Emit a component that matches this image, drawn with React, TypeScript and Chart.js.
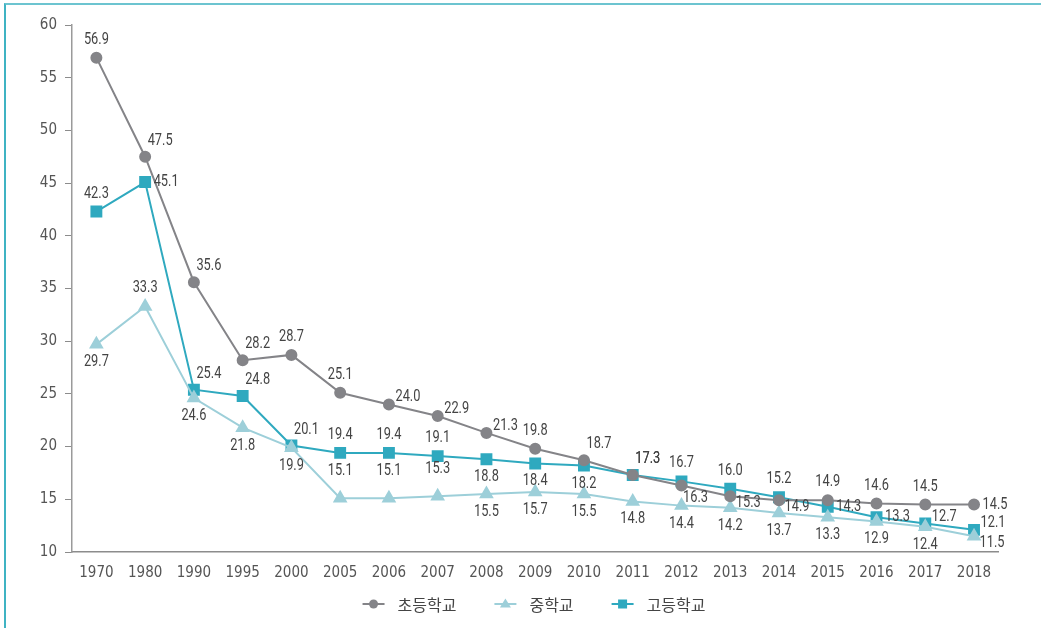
import React, { useEffect, useRef } from 'react';
import { Chart, registerables } from 'chart.js';

Chart.register(...registerables);

// ---- data ----
const years = ['1970', '1980', '1990', '1995', '2000', '2005', '2006', '2007', '2008', '2009', '2010', '2011', '2012', '2013', '2014', '2015', '2016', '2017', '2018'];
const seriesNames = ['초등학교', '중학교', '고등학교'];
const elementary = [56.9, 47.5, 35.6, 28.2, 28.7, 25.1, 24.0, 22.9, 21.3, 19.8, 18.7, 17.3, 16.3, 15.3, 14.9, 14.9, 14.6, 14.5, 14.5];
const middle = [29.7, 33.3, 24.6, 21.8, 19.9, 15.1, 15.1, 15.3, 15.5, 15.7, 15.5, 14.8, 14.4, 14.2, 13.7, 13.3, 12.9, 12.4, 11.5];
const high = [42.3, 45.1, 25.4, 24.8, 20.1, 19.4, 19.4, 19.1, 18.8, 18.4, 18.2, 17.3, 16.7, 16.0, 15.2, 14.3, 13.3, 12.7, 12.1];
const yMin = 10;
const yMax = 60;
const yStep = 5;

// label placement codes (styling, not data)
const elemPlace = ['a', 'ar', 'ar', 'ar', 'a', 'a', 'ra', 'ra', 'ra', 'a', 'ar', 'ar', 'rbb', 'rb', 'rb', 'a', 'a', 'a', 'r'];
const midPlace = ['b', 'a', 'b', 'b', 'b', 'A', 'A', 'A', 'b', 'b', 'b', 'b', 'b', 'b', 'b', 'b', 'b', 'b', 'rb'];
const highPlace = ['a', 'r', 'ar', 'ar', 'ar', 'a', 'a', 'a', 'b', 'b', 'b', 'ar', 'a', 'a', 'a', 'r', 'r', 'ra', 'ra'];

const OFFSETS: Record<string, [number, number]> = {
  a: [0, -18],
  A: [0, -27],
  ar: [15, -16],
  ra: [19, -7],
  r: [21, 0],
  rb: [18, 7],
  rbb: [14, 12],
  b: [0, 18],
};

const FONT = '"DejaVu Sans Condensed", "Roboto", sans-serif';
const LABEL_FONT = '16px Roboto, "DejaVu Sans Condensed", sans-serif';
const GRAY = '#848488';
const LIGHT = '#9dcfd9';
const TEAL = '#2fa9bf';

const labelPlugin = {
  id: 'valueLabels',
  afterDatasetsDraw(chart: any) {
    const ctx = chart.ctx;
    chart.data.datasets.forEach((ds: any, di: number) => {
      const meta = chart.getDatasetMeta(di);
      const places: string[] = ds.placements || [];
      meta.data.forEach((pt: any, i: number) => {
        const v = ds.data[i];
        const off = OFFSETS[places[i] || 'a'];
        ctx.save();
        ctx.font = LABEL_FONT;
        ctx.fillStyle = '#444';
        ctx.textAlign = 'center';
        ctx.textBaseline = 'middle';
        ctx.translate(pt.x + off[0], pt.y + off[1]);
        ctx.scale(0.8, 1);
        ctx.fillText(v.toFixed(1), 0, 0);
        ctx.restore();
      });
    });
  },
};

const legendPlugin = {
  id: 'customLegend',
  afterDraw(chart: any, _args: any, opts: any) {
    const ctx = chart.ctx;
    const lineW = 22;
    const gapT = 13;
    const gapItem = 38;
    ctx.save();
    ctx.font = '16px "Noto Sans CJK KR", sans-serif';
    const items = chart.data.datasets.map((ds: any) => ({ ds, w: ctx.measureText(ds.label).width }));
    let total = 0;
    items.forEach((it: any, i: number) => {
      total += lineW + gapT + it.w + (i > 0 ? gapItem : 0);
    });
    let x = opts.cx - total / 2;
    const y = opts.cy;
    items.forEach((it: any) => {
      const ds = it.ds;
      ctx.strokeStyle = ds.borderColor;
      ctx.lineWidth = 2;
      ctx.beginPath();
      ctx.moveTo(x, y);
      ctx.lineTo(x + lineW, y);
      ctx.stroke();
      const mx = x + lineW / 2;
      ctx.fillStyle = ds.pointBackgroundColor;
      ctx.beginPath();
      if (ds.pointStyle === 'circle') {
        ctx.arc(mx, y, 4.5, 0, Math.PI * 2);
      } else if (ds.pointStyle === 'triangle') {
        ctx.moveTo(mx, y - 5.5);
        ctx.lineTo(mx + 5.5, y + 3.5);
        ctx.lineTo(mx - 5.5, y + 3.5);
        ctx.closePath();
      } else {
        ctx.rect(mx - 4.5, y - 4.5, 9, 9);
      }
      ctx.fill();
      ctx.fillStyle = '#444';
      ctx.textAlign = 'left';
      ctx.textBaseline = 'middle';
      ctx.fillText(ds.label, x + lineW + gapT, y + 1);
      x += lineW + gapT + it.w + gapItem;
    });
    ctx.restore();
  },
};

export default function App() {
  const ref = useRef<HTMLCanvasElement | null>(null);

  useEffect(() => {
    document.body.style.margin = '0';
    if (!ref.current) return;
    const chart = new Chart(ref.current, {
      type: 'line',
      data: {
        labels: years,
        datasets: [
          {
            label: seriesNames[0],
            data: elementary,
            borderColor: GRAY,
            backgroundColor: GRAY,
            pointBackgroundColor: GRAY,
            pointBorderColor: GRAY,
            pointStyle: 'circle',
            pointRadius: 5,
            borderWidth: 2,
            placements: elemPlace,
          } as any,
          {
            label: seriesNames[1],
            data: middle,
            borderColor: LIGHT,
            backgroundColor: LIGHT,
            pointBackgroundColor: LIGHT,
            pointBorderColor: LIGHT,
            pointStyle: 'triangle',
            pointRadius: 6.5,
            borderWidth: 2,
            placements: midPlace,
          } as any,
          {
            label: seriesNames[2],
            data: high,
            borderColor: TEAL,
            backgroundColor: TEAL,
            pointBackgroundColor: TEAL,
            pointBorderColor: TEAL,
            pointStyle: 'rect',
            pointRadius: 7,
            borderWidth: 2,
            placements: highPlace,
          } as any,
        ],
      },
      options: {
        responsive: false,
        animation: false,
        devicePixelRatio: 1,
        layout: { padding: { left: 0, right: 42.6, top: 25, bottom: 36 } },
        plugins: {
          legend: { display: false },
          tooltip: { enabled: false },
          customLegend: { cx: 534, cy: 604 },
        } as any,
        scales: {
          x: {
            offset: true,
            grid: { display: false, drawTicks: false },
            border: { display: true, color: '#8c8c8c', width: 1.5 },
            ticks: { color: '#555', font: { family: FONT, size: 15 }, padding: 12, maxRotation: 0, autoSkip: false },
            afterFit: (s: any) => { s.height = 40; },
          },
          y: {
            min: yMin,
            max: yMax,
            grid: { drawOnChartArea: false, drawTicks: true, tickLength: 7, color: '#8c8c8c', lineWidth: 1 },
            border: { display: true, color: '#9a9a9a', width: 1.5 },
            ticks: { stepSize: yStep, color: '#555', font: { family: FONT, size: 15 }, padding: 8 },
            afterFit: (s: any) => { s.width = 72; },
          },
        },
      },
      plugins: [labelPlugin, legendPlugin],
    });
    return () => chart.destroy();
  }, []);

  return (
    <div style={{ position: 'relative', width: 1041, height: 628, background: '#fff', overflow: 'hidden' }}>
      <div
        style={{
          position: 'absolute',
          left: 4,
          top: 3,
          right: -10,
          bottom: -10,
          borderTop: '2px solid #6cc4d0',
          borderLeft: '2px solid #3fb3c3',
          pointerEvents: 'none',
        }}
      />
      <canvas ref={ref} width={1041} height={628} style={{ display: 'block' }} />
    </div>
  );
}
